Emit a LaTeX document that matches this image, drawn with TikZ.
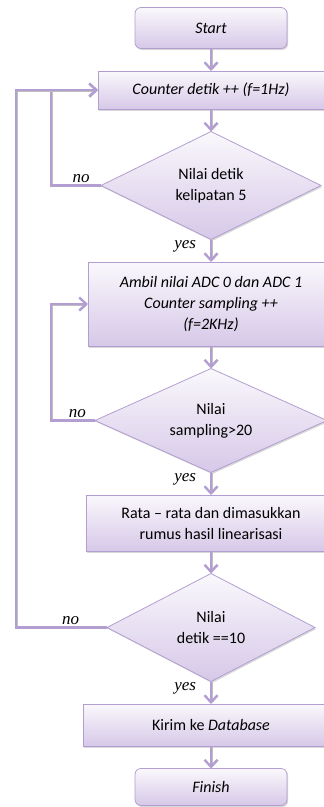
\documentclass[tikz,border=0pt]{standalone}
\usepackage{fontspec}
\setmainfont{Carlito}
\newfontfamily\serifit{Liberation Serif}
\usetikzlibrary{positioning,shapes.geometric,shadows,arrows.meta}
\definecolor{lilac}{RGB}{178,158,208}
\definecolor{lilacfill}{RGB}{214,200,232}
\definecolor{lilactop}{RGB}{250,248,252}
\begin{document}
\begin{tikzpicture}[x=1pt,y=1pt,outer sep=0pt,node distance=22.5pt,font=\fontsize{16}{21}\selectfont]
\tikzstyle{box} = [rectangle, draw=lilac, line width=0.8pt, top color=lilactop, bottom color=lilacfill, drop shadow={shadow xshift=1.2pt,shadow yshift=-1.5pt,fill=black!30}, align=center, inner sep=2pt]
\tikzstyle{itbox} = [box, font=\fontsize{16}{21}\selectfont\itshape]
\tikzstyle{endbox} = [itbox, rounded corners=6pt, minimum width=152pt]
\tikzstyle{cek} = [box, diamond, aspect=2, inner sep=0pt, minimum height=108pt]
\tikzstyle{flow} = [draw=lilac, line width=2.4pt, -{Straight Barb[length=7pt,width=13pt]}, preaction={draw=black!25, transform canvas={shift={(0.7pt,-0.8pt)}}}]
\tikzstyle{lbl} = [font=\fontsize{17}{18}\selectfont\serifit\itshape, inner sep=1pt]
%
\useasboundingbox (0,0) rectangle (324,-807);
\coordinate (loopA) at (51,0);
\coordinate (loopB) at (16,0);
\node[endbox, minimum height=41pt] (start) at (211,-28) {Start};
\node[itbox, minimum width=226pt, minimum height=38pt, below=of start] (count) {Counter detik ++ (f=1Hz)};
\node[cek, minimum width=220pt, below=of count] (cek5) {Nilai detik\\kelipatan 5};
\node[itbox, minimum width=246pt, minimum height=84pt, below=of cek5] (ambil) {Ambil nilai ADC 0 dan ADC 1\\Counter sampling ++\\(f=2KHz)};
\node[cek, minimum width=232pt, minimum height=104pt, below=of ambil] (cek20) {Nilai\\sampling>20};
\node[box, minimum width=250pt, minimum height=56pt, below=of cek20] (rata) {Rata – rata dan dimasukkan\\rumus hasil linearisasi};
\node[cek, minimum width=208pt, below=of rata] (cek10) {Nilai\\detik ==10};
\node[box, minimum width=256pt, minimum height=42pt, below=of cek10] (kirim) {Kirim ke \textit{Database}};
\node[endbox, minimum height=37pt, below=of kirim] (finish) {Finish};
%
\draw[flow] (start) -- (count);
\draw[flow] (count) -- (cek5);
\draw[flow] (cek5) -- node[lbl, left=14pt, pos=0.3] {yes} (ambil);
\draw[flow] (ambil) -- (cek20);
\draw[flow] (cek20) -- node[lbl, left=14pt, pos=0.3] {yes} (rata);
\draw[flow] (rata) -- (cek10);
\draw[flow] (cek10) -- node[lbl, left=14pt, pos=0.3] {yes} (kirim);
\draw[flow] (kirim) -- (finish);
%
\draw[flow] (cek5.west) -- node[lbl, above=2pt, pos=0.4] {no} (cek5.west -| loopA) |- (count.west);
\draw[flow] (cek20.west) -- node[lbl, above=2pt, pos=0.4] {no} (cek20.west -| loopA) |- (ambil.west);
\draw[flow] (cek10.west) -- node[lbl, above=2pt, pos=0.4] {no} (cek10.west -| loopB) |- (count.west);
\end{tikzpicture}
\end{document}
